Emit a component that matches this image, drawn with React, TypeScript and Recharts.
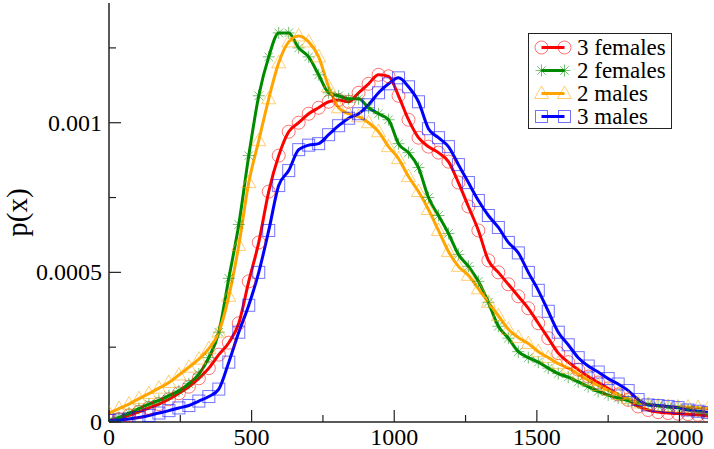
import { LineChart, Line, XAxis, YAxis, Legend } from "recharts"

// ─── Data ─────────────────────────────────────────────────────────────────────

const X_VALUES = [
  0, 35, 70, 105, 140, 175, 210, 245, 280, 315,
  350, 385, 420, 455, 490, 525, 560, 595, 630, 665,
  700, 735, 770, 805, 840, 875, 910, 945, 980, 1015,
  1050, 1085, 1120, 1155, 1190, 1225, 1260, 1295, 1330, 1365,
  1400, 1435, 1470, 1505, 1540, 1575, 1610, 1645, 1680, 1715,
  1750, 1785, 1820, 1855, 1890, 1925, 1960, 1995, 2030, 2065,
  2100,
]

const FEMALES_3 = [
  0.000005, 0.00001, 0.000022, 0.000034, 0.000047, 0.00006, 0.000076, 0.000096, 0.000118, 0.000146,
  0.00018, 0.000225, 0.000265, 0.00033, 0.00047, 0.0006, 0.00077, 0.00089, 0.00097, 0.001,
  0.00103, 0.00105, 0.00107, 0.001076, 0.00107, 0.0011, 0.00113, 0.00116, 0.001155, 0.00109,
  0.00101, 0.00095, 0.00092, 0.0009, 0.00087, 0.0008, 0.00072, 0.00064, 0.00054, 0.0005,
  0.00046, 0.00042, 0.00038, 0.00033, 0.00028, 0.00023, 0.0002, 0.000175, 0.000152, 0.000132,
  0.000112, 0.000092, 0.000074, 0.000052, 0.00004, 0.000033, 0.00003, 0.000028, 0.000026, 0.000024,
  0.00002,
]

const FEMALES_2 = [
  0.000005, 0.000015, 0.00003, 0.000045, 0.00006, 0.000072, 0.000088, 0.000104, 0.000128, 0.00016,
  0.000215, 0.0003, 0.00048, 0.00066, 0.00089, 0.00109, 0.00122, 0.0013, 0.0013, 0.00125,
  0.00122, 0.00116, 0.0011, 0.00109, 0.00108, 0.00108, 0.00105, 0.00103, 0.00101, 0.00093,
  0.0009, 0.00085, 0.00075, 0.00069, 0.00063, 0.00056, 0.00052, 0.00047, 0.0004, 0.00032,
  0.00028, 0.000235, 0.000215, 0.0002, 0.00018, 0.000162, 0.00015, 0.000134, 0.000118, 0.000102,
  0.00009, 0.00008, 0.000072, 0.000064, 0.000059, 0.000054, 0.00005, 0.000048, 0.000042, 0.000035,
  0.000028,
]

const MALES_2 = [
  0.00003, 0.000045, 0.00006, 0.000078, 0.000095, 0.000113, 0.000132, 0.000157, 0.000183, 0.00021,
  0.000245, 0.0003, 0.00042, 0.00059, 0.0008, 0.00094, 0.00108, 0.0012, 0.00127, 0.00129,
  0.00127, 0.00122, 0.00112, 0.00105, 0.00103, 0.00102, 0.001, 0.00097, 0.00092, 0.00088,
  0.00082, 0.00077, 0.00071, 0.00064, 0.00057, 0.00052, 0.00049, 0.000445, 0.0004, 0.000355,
  0.00031, 0.000282, 0.000262, 0.000235, 0.000215, 0.000195, 0.00018, 0.00016, 0.00014, 0.000122,
  0.000106, 0.000092, 0.000078, 0.000064, 0.000058, 0.000054, 0.000052, 0.00005, 0.00005, 0.000048,
  0.000045,
]

const MALES_3 = [
  0.000005, 0.000007, 0.00001, 0.000015, 0.000022, 0.00003, 0.000038, 0.000047, 0.000055, 0.00007,
  0.000085, 0.00011, 0.0002, 0.0003, 0.00039, 0.0005, 0.00064, 0.00079, 0.00084, 0.00091,
  0.000925, 0.00093, 0.00096, 0.00099, 0.001015, 0.00103, 0.00106, 0.0011, 0.00113, 0.00115,
  0.00112, 0.00107, 0.00098, 0.00095, 0.00092, 0.00086, 0.0008, 0.00074, 0.00069, 0.00065,
  0.0006, 0.000565, 0.0005, 0.00044, 0.00037, 0.0003, 0.000258, 0.000215, 0.000187, 0.000167,
  0.000145, 0.000127, 0.000105, 0.000075, 0.000057, 0.000055, 0.000052, 0.000048, 0.00004, 0.000036,
  0.000032,
]

const X_TICKS = [0, 250, 500, 750, 1000, 1250, 1500, 1750, 2000]
const X_LABELS = [0, 500, 1000, 1500, 2000]
const Y_TICKS = [0, 0.00025, 0.0005, 0.00075, 0.001, 0.00125]
const Y_LABELS = [0, 0.0005, 0.001]

type MarkerKind = "circle" | "star" | "triangle" | "square"

const SERIES: { key: string; name: string; color: string; marker: MarkerKind; values: number[] }[] = [
  { key: "f3", name: "3 females", color: "#ff0000", marker: "circle", values: FEMALES_3 },
  { key: "f2", name: "2 females", color: "#008a00", marker: "star", values: FEMALES_2 },
  { key: "m2", name: "2 males", color: "#ffa500", marker: "triangle", values: MALES_2 },
  { key: "m3", name: "3 males", color: "#0000ff", marker: "square", values: MALES_3 },
]

const rows = X_VALUES.map((x, i) => {
  const row: Record<string, number> = { x }
  SERIES.forEach((s) => { row[s.key] = s.values[i] })
  return row
})

const FONT = "Liberation Serif, Tinos, DejaVu Serif, Noto Serif, serif"
const AXIS = "#222"

// ─── Markers ──────────────────────────────────────────────────────────────────

function Marker({ kind, x, y, color }: { kind: MarkerKind; x: number; y: number; color: string }) {
  const st = { fill: "none", stroke: color, strokeOpacity: 0.55, strokeWidth: 1 }
  if (kind === "circle") return <circle cx={x} cy={y} r={6.5} {...st} />
  if (kind === "square") return <rect x={x - 6} y={y - 6} width={12} height={12} {...st} />
  if (kind === "triangle")
    return <polygon points={`${x},${y - 7.5} ${x - 7},${y + 5} ${x + 7},${y + 5}`} {...st} />
  const r = 6
  const d = r * 0.707
  return (
    <g {...st}>
      <line x1={x - r} y1={y} x2={x + r} y2={y} />
      <line x1={x} y1={y - r} x2={x} y2={y + r} />
      <line x1={x - d} y1={y - d} x2={x + d} y2={y + d} />
      <line x1={x - d} y1={y + d} x2={x + d} y2={y - d} />
    </g>
  )
}

const makeDot = (kind: MarkerKind, color: string) => (props: any) => {
  const { cx, cy, index } = props
  if (cx == null || cy == null) return <g key={`d${index}`} />
  return (
    <g key={`d${index}`}>
      <Marker kind={kind} x={cx} y={cy} color={color} />
    </g>
  )
}

// ─── Ticks (inward, xmgrace style) ────────────────────────────────────────────

function BottomTick({ x, y, payload }: any) {
  const major = X_LABELS.includes(payload.value)
  return (
    <g>
      <line x1={x} y1={y} x2={x} y2={y - (major ? 12 : 7)} stroke={AXIS} strokeWidth={1.2} />
      {major && (
        <text x={x} y={y + 23} textAnchor="middle" fontSize={24} fontFamily={FONT} fill="#000">
          {payload.value}
        </text>
      )}
    </g>
  )
}

function TopTick({ x, y, payload }: any) {
  const major = X_LABELS.includes(payload.value)
  return <line x1={x} y1={y} x2={x} y2={y + (major ? 12 : 7)} stroke={AXIS} strokeWidth={1.2} />
}

function LeftTick({ x, y, payload }: any) {
  const major = Y_LABELS.includes(payload.value)
  return (
    <g>
      <line x1={x} y1={y} x2={x + (major ? 12 : 7)} y2={y} stroke={AXIS} strokeWidth={1.2} />
      {major && (
        <text x={x - 7} y={y + 8} textAnchor="end" fontSize={24} fontFamily={FONT} fill="#000">
          {String(payload.value)}
        </text>
      )}
    </g>
  )
}

function RightTick({ x, y, payload }: any) {
  const major = Y_LABELS.includes(payload.value)
  return <line x1={x} y1={y} x2={x - (major ? 12 : 7)} y2={y} stroke={AXIS} strokeWidth={1.2} />
}

function YLabel({ viewBox }: any) {
  const cx = 17
  const cy = viewBox.y + viewBox.height / 2
  return (
    <text
      x={cx}
      y={cy}
      transform={`rotate(-90 ${cx} ${cy})`}
      textAnchor="middle"
      dominantBaseline="central"
      fontSize={29}
      fontFamily={FONT}
      fill="#000"
    >
      p(x)
    </text>
  )
}

// ─── Legend ───────────────────────────────────────────────────────────────────

function LegendBox() {
  return (
    <div
      style={{
        border: `1.5px solid ${AXIS}`,
        background: "#fff",
        paddingTop: 2,
        width: 142,
        fontFamily: FONT,
        fontSize: 23,
        color: "#000",
      }}
    >
      {SERIES.map((s) => (
        <div key={s.key} style={{ display: "flex", alignItems: "center", height: 23 }}>
          <svg width={48} height={23} style={{ display: "block", flexShrink: 0 }}>
            <line x1={12.5} y1={11.5} x2={35.5} y2={11.5} stroke={s.color} strokeWidth={3} />
            <Marker kind={s.marker} x={12.5} y={11.5} color={s.color} />
            <Marker kind={s.marker} x={35.5} y={11.5} color={s.color} />
          </svg>
          <span style={{ lineHeight: "23px", whiteSpace: "nowrap" }}>{s.name}</span>
        </div>
      ))}
    </div>
  )
}

export default function App() {
  return (
    <div style={{ position: "absolute", left: 0, top: 0, width: 714, height: 449, background: "#fff" }}>
      <LineChart width={714} height={449} data={rows} margin={{ top: 3, right: 6, bottom: 0, left: 0 }}>
        <XAxis
          dataKey="x"
          type="number"
          domain={[0, 2100]}
          ticks={X_TICKS}
          interval={0}
          height={27}
          tickSize={0}
          tickMargin={0}
          tickLine={false}
          axisLine={{ stroke: AXIS, strokeWidth: 1.5 }}
          tick={<BottomTick />}
          allowDataOverflow
        />
        <XAxis
          xAxisId="top"
          orientation="top"
          dataKey="x"
          type="number"
          domain={[0, 2100]}
          ticks={X_TICKS}
          interval={0}
          height={0}
          tickSize={0}
          tickMargin={0}
          tickLine={false}
          axisLine={{ stroke: AXIS, strokeWidth: 1.5 }}
          tick={<TopTick />}
          allowDataOverflow
        />
        <YAxis
          type="number"
          domain={[0, 0.0014]}
          ticks={Y_TICKS}
          interval={0}
          width={109}
          tickSize={0}
          tickMargin={0}
          tickLine={false}
          axisLine={{ stroke: AXIS, strokeWidth: 1.5 }}
          tick={<LeftTick />}
          label={{ content: <YLabel /> } as any}
          allowDataOverflow
        />
        <YAxis
          yAxisId="right"
          orientation="right"
          type="number"
          domain={[0, 0.0014]}
          ticks={Y_TICKS}
          interval={0}
          width={0}
          tickSize={0}
          tickMargin={0}
          tickLine={false}
          axisLine={{ stroke: AXIS, strokeWidth: 1.5 }}
          tick={<RightTick />}
          allowDataOverflow
        />
        <Legend
          layout="vertical"
          align="center"
          verticalAlign="middle"
          content={() => <LegendBox />}
          wrapperStyle={{ left: 528, top: 33, width: 145, height: 96 }}
        />
        {SERIES.map((s) => (
          <Line
            key={s.key}
            dataKey={s.key}
            name={s.name}
            type="monotone"
            stroke={s.color}
            strokeWidth={3}
            dot={makeDot(s.marker, s.color)}
            activeDot={false}
            isAnimationActive={false}
          />
        ))}
      </LineChart>
    </div>
  )
}
